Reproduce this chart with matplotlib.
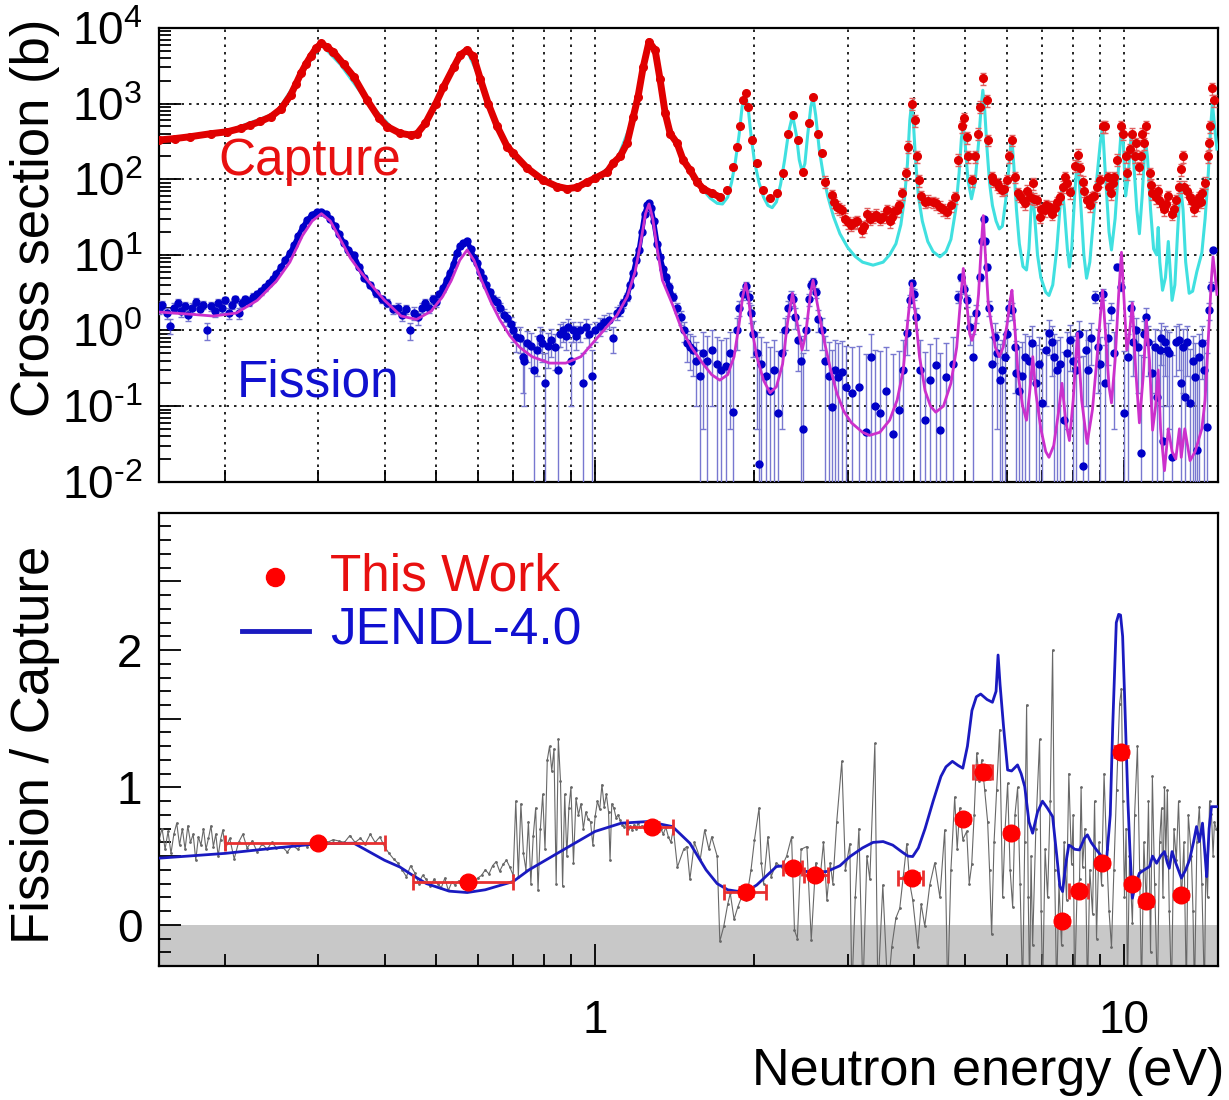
import numpy as np
import matplotlib
matplotlib.use("Agg")
import matplotlib.pyplot as plt
from matplotlib.ticker import LogLocator, MultipleLocator, FuncFormatter, NullFormatter

plt.rcParams['font.family'] = ['Liberation Sans', 'DejaVu Sans']
plt.rcParams['mathtext.fontset'] = 'custom'
plt.rcParams['mathtext.rm'] = 'Liberation Sans'
plt.rcParams['mathtext.default'] = 'regular'

# ---------------- top panel: cross sections (b) ----------------
# measured capture (smooth part first, then the resonance forest, then extra points)
cap_E = [0.150, 0.161, 0.172, 0.188, 0.202, 0.214, 0.223, 0.233, 0.244, 0.255, 0.266, 0.272, 0.278, 0.284,
         0.290, 0.297, 0.304, 0.311, 0.320, 0.335, 0.350, 0.371, 0.390, 0.405, 0.428, 0.448, 0.461, 0.478,
         0.500, 0.517, 0.540, 0.556, 0.573, 0.589, 0.607, 0.628, 0.653, 0.682, 0.700, 0.744, 0.798, 0.848,
         0.886, 0.925, 0.966, 1.000, 1.054, 1.081, 1.115, 1.149, 1.180, 1.205, 1.232, 1.264, 1.298, 1.326,
         1.356, 1.386, 1.428, 1.466, 1.511, 1.558, 1.599, 1.663, 1.722, 1.775, 1.822, 1.853, 1.877, 1.902,
         1.927, 1.944, 1.978, 2.022, 2.075, 2.139, 2.205, 2.263, 2.313, 2.363, 2.415, 2.470, 2.534, 2.578,
         2.635, 2.682, 2.716, 2.801, 2.861, 2.925, 3.002, 3.095, 3.19, 3.26, 3.346, 3.449, 3.556, 3.634,
         3.714, 3.796, 3.863, 3.896, 3.964, 4.016, 4.051, 4.087, 4.195, 4.344, 4.477, 4.616, 4.778, 4.841,
         4.926, 4.969, 5.034, 5.056, 5.145, 5.212, 5.281, 5.327, 5.397, 5.49, 5.514, 5.611, 5.734, 5.86,
         5.989, 6.041, 6.12, 6.201, 6.282, 6.42, 6.619, 6.706, 6.823, 6.913, 7.065, 7.22, 7.378, 7.54,
         7.705, 7.874, 8.047, 8.153, 8.333, 8.478, 8.665, 8.855, 8.972, 9.09, 9.17, 9.29, 9.45, 9.575,
         9.7, 9.87, 9.957, 10.13, 10.35, 10.53, 10.67, 10.81, 11.0, 11.15, 11.29, 11.64, 12.0, 12.27,
         12.53, 12.81, 12.98, 13.27, 13.68, 14.04, 14.35, 14.53, 14.66, 14.79,
         2.83, 2.89, 2.96, 3.04, 3.13, 3.22, 3.30, 3.40, 3.50, 3.60, 3.67, 3.75, 4.12, 4.25, 4.40, 4.55,
         4.70, 5.65, 5.80, 5.92, 6.35, 6.50, 6.55, 6.75, 6.95, 7.10, 7.30, 7.45, 7.65, 7.80, 8.25, 8.40,
         8.60, 8.75, 9.35, 9.52, 10.05, 10.25, 10.45, 10.75, 10.90, 11.20, 11.45, 11.55, 11.80, 11.90,
         12.10, 12.40, 12.70, 12.90, 13.10, 13.40, 13.55, 13.80, 13.95, 14.20, 14.45]
cap_xs = [330, 345, 365, 400, 424, 470, 520, 580, 670, 850, 1300, 1800, 2500, 3300,
          4200, 5400, 6250, 5600, 4840, 3300, 2260, 1110, 650, 495, 405, 383, 400, 550,
          1000, 1660, 3000, 4400, 5100, 4200, 2100, 1000, 500, 270, 221, 140, 97, 80,
          75, 78, 92, 103, 125, 163, 200, 300, 660, 1230, 3000, 6570, 5100, 2100,
          750, 400, 300, 180, 132, 92, 75, 65, 58, 72, 145, 270, 500, 1110,
          1370, 910, 330, 163, 72, 56, 65, 120, 400, 705, 330, 124, 550, 1230,
          400, 220, 92, 61, 43, 39, 27, 27, 21, 35, 32, 30, 39, 32,
          39, 65, 120, 270, 1000, 600, 200, 97, 50, 50, 43, 37, 58, 180,
          500, 640, 360, 200, 97, 200, 400, 910, 2170, 1110, 330, 107, 88, 72,
          97, 200, 330, 107, 65, 53, 58, 88, 53, 32, 39, 43, 41, 58,
          107, 67, 150, 210, 92, 53, 58, 80, 97, 500, 500, 107, 65, 107,
          180, 500, 400, 120, 400, 300, 145, 400, 500, 120, 65, 53, 47, 35,
          53, 135, 80, 58, 47, 65, 200, 500, 1600, 1100,
          50, 41, 30, 25, 28, 24, 30, 34, 32, 28, 38, 45, 60, 52, 48, 40,
          45, 95, 80, 75, 60, 48, 70, 55, 40, 45, 35, 50, 80, 90, 140, 70,
          45, 60, 80, 90, 200, 250, 200, 200, 300, 85, 58, 70, 45, 40,
          60, 40, 80, 200, 70, 52, 40, 58, 50, 90, 300]

# JENDL-4.0 capture
cyan_E = [0.15, 0.2, 0.25, 0.28, 0.304, 0.33, 0.37, 0.42, 0.46, 0.5, 0.54, 0.573, 0.61, 0.65, 0.7, 0.8,
          0.88, 1.0, 1.1, 1.18, 1.23, 1.264, 1.3, 1.356, 1.43, 1.5, 1.55, 1.6, 1.65, 1.7, 1.74, 1.78,
          1.81, 1.84, 1.87, 1.895, 1.92, 1.945, 1.97, 2.0, 2.04, 2.08, 2.12, 2.16, 2.2, 2.24, 2.28, 2.32,
          2.36, 2.40, 2.43, 2.46, 2.49, 2.52, 2.555, 2.58, 2.61, 2.65, 2.7, 2.75, 2.82, 2.9, 3.0, 3.1,
          3.2, 3.35, 3.5, 3.6, 3.7, 3.78, 3.84, 3.89, 3.93, 3.96, 3.99, 4.03, 4.08, 4.15, 4.25, 4.35,
          4.48, 4.6, 4.7, 4.8, 4.87, 4.92, 4.96, 5.0, 5.06, 5.14, 5.22, 5.3, 5.36, 5.4, 5.44, 5.5,
          5.56, 5.63, 5.72, 5.8, 5.88, 5.96, 6.04, 6.1, 6.13, 6.18, 6.25, 6.33, 6.43, 6.53, 6.6, 6.66,
          6.71, 6.76, 6.85, 6.95, 7.1, 7.2, 7.32, 7.45, 7.55, 7.62, 7.7, 7.8, 7.87, 7.95, 8.05, 8.15,
          8.25, 8.38, 8.48, 8.6, 8.72, 8.85, 9.0, 9.09, 9.2, 9.35, 9.45, 9.6, 9.75, 9.87, 9.95, 10.05,
          10.15, 10.3, 10.42, 10.55, 10.67, 10.8, 10.95, 11.05, 11.2, 11.35, 11.5, 11.58, 11.66, 11.8, 11.95, 12.1,
          12.2, 12.3, 12.45, 12.6, 12.75, 12.9, 13.05, 13.25, 13.45, 13.7, 14.0, 14.2, 14.4, 14.55, 14.66, 14.8,
          14.95]
cyan_xs = [320, 420, 750, 2600, 6000, 3300, 1100, 420, 390, 1000, 3000, 5000, 1900, 480, 215, 95,
           73, 100, 180, 650, 2900, 6300, 4800, 720, 270, 130, 95, 72, 56, 48, 47, 58,
           90, 170, 380, 900, 1350, 900, 380, 170, 90, 58, 45, 42, 50, 85, 180, 420,
           700, 380, 180, 125, 160, 380, 900, 1200, 700, 250, 110, 60, 32, 19, 12.5, 9.5,
           8, 7.3, 8, 10, 14, 25, 55, 160, 600, 1000, 600, 180, 60, 28, 15, 11,
           9.4, 11, 16, 40, 120, 350, 500, 300, 100, 55, 90, 300, 900, 1500, 900, 250,
           90, 45, 28, 22, 24, 50, 130, 300, 330, 150, 40, 14, 7, 6.3, 12, 40,
           65, 35, 10, 5, 3.2, 2.9, 4, 12, 40, 79, 40, 12, 6.9, 12, 60, 200,
           60, 10, 4.9, 8, 25, 90, 300, 500, 120, 20, 11.6, 30, 150, 500, 300, 60,
           100, 400, 150, 40, 19, 60, 330, 200, 40, 12, 10, 23, 8, 3.4, 5, 15,
           6, 2.5, 4, 20, 88, 40, 8, 3.1, 3.3, 6, 10.6, 30, 120, 500, 1000, 500,
           250]

# measured fission
fis_E = [0.150, 0.152, 0.155, 0.157, 0.160, 0.163, 0.165, 0.168, 0.170, 0.173, 0.176, 0.179, 0.182, 0.185,
         0.188, 0.191, 0.194, 0.197, 0.200, 0.203, 0.206, 0.209, 0.212, 0.215, 0.218, 0.222, 0.226, 0.230,
         0.234, 0.238, 0.242, 0.246, 0.250, 0.255, 0.260, 0.265, 0.270, 0.275, 0.280, 0.286, 0.292, 0.298,
         0.304, 0.310, 0.316, 0.322, 0.328, 0.335, 0.342, 0.350, 0.358, 0.366, 0.375, 0.385, 0.395, 0.405,
         0.415, 0.425, 0.432, 0.440, 0.447, 0.455, 0.462, 0.470, 0.478, 0.486, 0.494, 0.500, 0.508, 0.516,
         0.524, 0.532, 0.540, 0.548, 0.556, 0.564, 0.573, 0.582, 0.590, 0.598, 0.606, 0.614, 0.622, 0.632,
         0.642, 0.652, 0.662, 0.672, 0.682, 0.692, 0.700, 0.710, 0.720, 0.730, 0.735, 0.745, 0.755, 0.765,
         0.775, 0.785, 0.795, 0.805, 0.815, 0.825, 0.840, 0.850, 0.860, 0.870, 0.880, 0.890, 0.900, 0.910,
         0.920, 0.935, 0.950, 0.960, 0.975, 0.985, 1.000, 1.020, 1.040, 1.060, 1.080, 1.100, 1.115, 1.130,
         1.149, 1.165, 1.180, 1.195, 1.210, 1.225, 1.240, 1.255, 1.264, 1.275, 1.290, 1.310, 1.326, 1.345,
         1.360, 1.380, 1.400, 1.430, 1.450, 1.470, 1.490, 1.510, 1.530, 1.550, 1.580, 1.600, 1.630, 1.660,
         1.700, 1.730, 1.770, 1.800, 1.820, 1.850, 1.870, 1.900, 1.930, 1.950, 1.970, 1.990, 2.020, 2.040,
         2.060, 2.100, 2.140, 2.180, 2.220, 2.250, 2.280, 2.310, 2.340, 2.360, 2.390, 2.420, 2.450, 2.470,
         2.500, 2.530, 2.560, 2.580, 2.610, 2.640, 2.680, 2.720, 2.760, 2.800, 2.840, 2.880, 2.930, 2.980,
         3.050, 3.150, 3.250, 3.320, 3.380, 3.450, 3.550, 3.650, 3.750, 3.820, 3.880, 3.930, 3.960, 4.000,
         4.040, 4.100, 4.200, 4.300, 4.400, 4.480, 4.600, 4.750, 4.840, 4.920, 4.970, 5.030, 5.100, 5.170,
         5.250, 5.330, 5.380, 5.420, 5.460, 5.500, 5.550, 5.620, 5.700, 5.810, 5.950, 6.050, 6.140, 6.250,
         6.330, 6.500, 6.700, 6.900, 7.000, 7.200, 7.350, 7.550, 7.700, 7.900, 8.100, 8.350, 8.550, 8.800,
         9.000, 9.200, 9.450, 9.700, 9.850, 10.00, 10.30, 10.50, 10.75, 11.00, 11.25, 11.50, 11.65, 11.80,
         12.05, 12.30, 12.80, 13.00, 13.30, 13.60, 13.70, 14.00, 14.30, 14.45, 14.55, 14.70,
         5.75, 5.88, 6.00, 6.20, 6.40, 6.60, 6.80, 7.10, 7.30, 7.45, 7.80, 8.00, 8.20, 8.45, 8.65, 8.90,
         9.10, 9.30, 9.55, 10.15, 10.40, 10.60, 10.90, 11.10, 11.40, 11.70, 11.95, 12.15, 12.50, 12.65,
         12.90, 13.15, 13.45, 13.85, 14.15]
fis_xs = [1.9, 2.2, 1.7, 1.15, 2.0, 2.3, 1.8, 2.1, 1.6, 2.0, 2.4, 1.9, 2.2, 1.0,
          2.1, 1.8, 2.3, 2.0, 2.5, 1.7, 2.2, 2.6, 1.7, 2.3, 2.6, 2.4, 2.8, 3.0,
          3.3, 3.7, 4.2, 4.8, 5.6, 6.8, 8.5, 10.5, 13.5, 18, 23, 29, 34, 37,
          37, 35, 30, 24, 19, 14.5, 11.5, 9.9, 7.0, 5.0, 4.0, 3.1, 2.6, 2.3,
          1.9, 2.0, 1.6, 1.9, 1.0, 1.7, 1.5, 2.0, 2.3, 2.0, 2.6, 2.4, 3.0, 3.6,
          4.6, 5.8, 7.5, 10.5, 13, 14.5, 15, 12, 9, 7.8, 6.0, 5.0, 4.0, 3.2,
          2.6, 2.4, 2.0, 1.6, 1.45, 1.2, 1.0, 0.82, 0.8, 0.45, 0.4, 0.68, 0.62, 0.3,
          0.55, 0.8, 0.68, 0.2, 0.62, 0.75, 0.6, 0.3, 0.9, 1.0, 0.85, 1.1, 0.4, 1.0,
          0.85, 1.0, 0.2, 1.1, 0.9, 0.25, 1.0, 1.15, 1.3, 1.37, 0.8, 1.7, 1.85, 2.3,
          2.8, 4.0, 5.7, 8.5, 11.6, 20, 35, 45, 48, 42, 28, 14, 9.4, 6.5,
          5.1, 3.8, 2.8, 2.0, 1.5, 1.0, 0.68, 0.6, 0.55, 0.4, 0.25, 0.5, 0.4, 0.55,
          0.36, 0.3, 0.34, 0.5, 0.084, 1.0, 2.0, 3.0, 3.9, 2.8, 1.7, 0.9, 0.5, 0.017,
          0.36, 0.25, 0.16, 0.3, 0.08, 0.5, 1.0, 2.0, 2.8, 2.6, 1.5, 0.74, 0.4, 0.05,
          1.0, 2.6, 4.0, 4.4, 3.2, 1.4, 1.0, 0.4, 0.25, 0.097, 0.3, 0.24, 0.28, 0.18,
          0.15, 0.18, 0.045, 0.45, 0.1, 0.08, 0.16, 0.043, 0.088, 0.3, 0.92, 2.5, 4.2, 3.0,
          1.5, 0.3, 0.065, 0.22, 0.35, 0.048, 0.24, 0.36, 2.8, 5.1, 3.5, 2.5, 1.1, 0.45,
          1.7, 5.1, 15, 30, 15, 6.9, 2.0, 0.36, 0.82, 0.22, 0.45, 2.0, 1.85, 0.27,
          0.16, 0.45, 0.68, 0.36, 0.11, 0.92, 0.45, 0.36, 0.065, 0.74, 0.3, 0.016, 0.3, 2.8,
          0.36, 0.2, 1.85, 6.9, 3.8, 0.08, 2.0, 1.0, 0.024, 1.5, 0.27, 0.13, 0.55, 0.035,
          0.55, 0.021, 0.2, 0.13, 0.11, 0.24, 0.026, 0.68, 0.053, 1.85, 3.8, 11.6,
          0.5, 0.3, 0.9, 0.6, 0.25, 0.4, 0.2, 0.55, 0.7, 0.3, 0.5, 0.4, 0.9, 0.55, 0.8, 0.6,
          3.0, 0.8, 0.5, 0.45, 0.7, 0.6, 0.9, 0.7, 0.6, 0.8, 0.7, 0.5, 0.7, 0.75,
          0.6, 0.7, 0.4, 0.45, 0.3]

# JENDL-4.0 fission
mag_E = [0.15, 0.17, 0.19, 0.21, 0.23, 0.25, 0.265, 0.28, 0.292, 0.304, 0.316, 0.33, 0.345, 0.36, 0.38, 0.4,
         0.43, 0.46, 0.49, 0.515, 0.535, 0.555, 0.573, 0.59, 0.61, 0.635, 0.66, 0.69, 0.72, 0.76, 0.82, 0.88,
         0.94, 1.0, 1.05, 1.1, 1.15, 1.19, 1.22, 1.245, 1.264, 1.285, 1.31, 1.34, 1.4, 1.46, 1.52, 1.6,
         1.66, 1.72, 1.78, 1.83, 1.87, 1.9, 1.925, 1.95, 1.98, 2.02, 2.08, 2.14, 2.2, 2.26, 2.31, 2.36,
         2.41, 2.46, 2.5, 2.55, 2.58, 2.63, 2.7, 2.78, 2.86, 2.95, 3.05, 3.2, 3.3, 3.45, 3.6, 3.72,
         3.82, 3.89, 3.96, 4.02, 4.1, 4.2, 4.3, 4.4, 4.55, 4.7, 4.82, 4.9, 4.96, 5.03, 5.1, 5.15,
         5.22, 5.3, 5.36, 5.41, 5.46, 5.53, 5.6, 5.7, 5.8, 5.9, 6.0, 6.08, 6.13, 6.2, 6.3, 6.42,
         6.53, 6.62, 6.71, 6.8, 6.95, 7.1, 7.2, 7.35, 7.5, 7.62, 7.75, 7.87, 8.0, 8.15, 8.3, 8.5,
         8.7, 8.85, 9.0, 9.09, 9.2, 9.35, 9.45, 9.6, 9.75, 9.87, 9.97, 10.1, 10.2, 10.35, 10.5, 10.67,
         10.85, 11.0, 11.15, 11.3, 11.45, 11.58, 11.7, 11.9, 12.1, 12.3, 12.5, 12.7, 12.8, 13.0, 13.3, 13.6,
         14.0, 14.2, 14.4, 14.6, 14.7, 14.85, 14.95]
mag_xs = [1.75, 1.65, 1.55, 1.7, 2.5, 4.5, 8, 18, 28, 35, 28, 16, 9, 6, 3.8, 2.5,
          1.55, 1.4, 1.8, 2.8, 4.6, 8.5, 11.6, 8.5, 4.6, 2.4, 1.4, 0.85, 0.6, 0.45, 0.37, 0.37,
          0.45, 0.74, 1.1, 1.6, 2.8, 6, 15, 35, 47, 30, 12, 4.6, 2.2, 1.0, 0.6, 0.36,
          0.26, 0.22, 0.26, 0.45, 1.2, 2.8, 4.2, 2.6, 1.0, 0.45, 0.22, 0.15, 0.18, 0.36, 1.3, 3.1,
          1.2, 0.55, 0.9, 3.0, 4.6, 2.2, 0.8, 0.32, 0.15, 0.085, 0.06, 0.045, 0.041, 0.045, 0.065, 0.12,
          0.3, 1.2, 4.2, 1.8, 0.45, 0.16, 0.1, 0.083, 0.1, 0.2, 0.6, 2.5, 6.6, 2.5, 0.9, 0.74,
          1.0, 3, 12, 33, 10, 2.2, 1.25, 0.6, 0.45, 0.6, 1.2, 2.5, 3.4, 1.2, 0.25, 0.1,
          0.065, 0.15, 0.45, 0.15, 0.05, 0.025, 0.021, 0.03, 0.08, 0.2, 0.06, 0.035, 0.12, 0.92, 0.12, 0.032,
          0.09, 0.35, 1.5, 3.4, 1.0, 0.18, 0.11, 0.4, 3, 10.8, 3, 0.55, 0.8, 2.3, 0.3, 0.06,
          0.25, 1.37, 0.4, 0.048, 0.1, 0.3, 0.05, 0.014, 0.05, 0.025, 0.02, 0.05, 0.021, 0.05, 0.019, 0.025,
          0.05, 0.12, 0.8, 5, 9.4, 5, 3]

# ---------------- bottom panel: fission / capture ----------------
ratio_E = [0.150, 0.152, 0.154, 0.156, 0.158, 0.160, 0.162, 0.164, 0.166, 0.168, 0.170, 0.172, 0.174, 0.176,
           0.178, 0.180, 0.182, 0.184, 0.186, 0.188, 0.190, 0.192, 0.194, 0.196, 0.198, 0.200, 0.204, 0.208,
           0.212, 0.216, 0.220, 0.225, 0.230, 0.235, 0.240, 0.245, 0.250, 0.256, 0.262, 0.268, 0.274, 0.280,
           0.286, 0.292, 0.298, 0.305, 0.312, 0.320, 0.328, 0.336, 0.344, 0.352, 0.360, 0.368, 0.376, 0.384,
           0.392, 0.400, 0.408, 0.416, 0.424, 0.432, 0.440, 0.448, 0.456, 0.464, 0.472, 0.480, 0.488, 0.496,
           0.504, 0.512, 0.520, 0.528, 0.536, 0.544, 0.552, 0.560, 0.568, 0.576, 0.584, 0.592, 0.600, 0.610,
           0.620, 0.630, 0.640, 0.650, 0.660, 0.670, 0.680, 0.690, 0.700, 0.708, 0.716, 0.724, 0.732, 0.740,
           0.748, 0.756, 0.764, 0.772, 0.780, 0.788, 0.796, 0.804, 0.812, 0.820, 0.828, 0.836, 0.844, 0.852,
           0.860, 0.868, 0.876, 0.884, 0.892, 0.900, 0.910, 0.920, 0.930, 0.940, 0.950, 0.960, 0.970, 0.980,
           0.990, 1.000, 1.010, 1.020, 1.030, 1.040, 1.050, 1.060, 1.067, 1.075, 1.085, 1.095, 1.105, 1.115,
           1.125, 1.135, 1.145, 1.155, 1.165, 1.175, 1.185, 1.195, 1.205, 1.215, 1.225, 1.240, 1.255, 1.270,
           1.285, 1.300, 1.315, 1.330, 1.345, 1.360, 1.375, 1.390, 1.405, 1.430, 1.470, 1.490, 1.510, 1.540,
           1.580, 1.610, 1.640, 1.660, 1.700, 1.720, 1.750, 1.780, 1.800, 1.830, 1.860, 1.890, 1.930, 1.970,
           2.000, 2.040, 2.060, 2.080, 2.120, 2.150, 2.200, 2.250, 2.300, 2.350, 2.380, 2.410, 2.450, 2.512,
           2.56, 2.61, 2.659, 2.70, 2.740, 2.78, 2.812, 2.86, 2.924, 2.97, 3.028, 3.054, 3.10, 3.15,
           3.205, 3.261, 3.303, 3.376, 3.420, 3.495, 3.572, 3.634, 3.70, 3.762, 3.82, 3.879, 3.93, 3.981,
           4.068, 4.13, 4.195, 4.287, 4.380, 4.48, 4.575, 4.634, 4.70, 4.778, 4.83, 4.883, 4.95, 5.034,
           5.09, 5.145, 5.20, 5.258, 5.32, 5.374, 5.444, 5.514, 5.56, 5.611, 5.67, 5.734, 5.809, 5.886,
           5.95, 6.015, 6.08, 6.148, 6.21, 6.282, 6.35, 6.420, 6.48, 6.533, 6.58, 6.619, 6.66, 6.706,
           6.80, 6.913, 6.96, 7.004, 7.08, 7.157, 7.24, 7.315, 7.38, 7.444, 7.52, 7.604, 7.69, 7.772,
           7.85, 7.943, 8.00, 8.047, 8.13, 8.224, 8.28, 8.333, 8.42, 8.513, 8.60, 8.703, 8.78, 8.855,
           8.95, 9.050, 9.15, 9.250, 9.35, 9.450, 9.55, 9.660, 9.790, 9.870, 9.93, 10.00, 10.07, 10.13,
           10.22, 10.35, 10.45, 10.58, 10.68, 10.77, 10.88, 11.00, 11.10, 11.20, 11.29, 11.40, 11.54, 11.65,
           11.75, 11.82, 11.90, 11.97, 12.05, 12.15, 12.27, 12.40, 12.53, 12.65, 12.81, 12.95, 13.09, 13.20,
           13.38, 13.47, 13.56, 13.70, 13.85, 14.00, 14.16, 14.25, 14.35, 14.48, 14.60, 14.70, 14.79, 14.90]
ratio_val = [0.62, 0.70, 0.55, 0.68, 0.52, 0.66, 0.74, 0.58, 0.70, 0.55, 0.72, 0.60, 0.66, 0.47,
             0.64, 0.58, 0.70, 0.55, 0.63, 0.72, 0.57, 0.66, 0.50, 0.62, 0.69, 0.55, 0.63, 0.48,
             0.60, 0.66, 0.56, 0.61, 0.53, 0.59, 0.55, 0.60, 0.56, 0.57, 0.53, 0.58, 0.55, 0.59,
             0.57, 0.60, 0.59, 0.61, 0.60, 0.62, 0.61, 0.60, 0.65, 0.60, 0.63, 0.59, 0.66, 0.60,
             0.64, 0.57, 0.52, 0.48, 0.45, 0.40, 0.35, 0.43, 0.38, 0.30, 0.36, 0.33, 0.28, 0.33,
             0.30, 0.27, 0.34, 0.25, 0.31, 0.29, 0.32, 0.28, 0.31, 0.30, 0.33, 0.31, 0.34, 0.36,
             0.40, 0.37, 0.43, 0.46, 0.39, 0.44, 0.47, 0.42, 0.36, 0.90, 0.35, 0.88, 0.52, 0.40,
             0.75, 0.30, 0.65, 0.85, 0.25, 0.70, 0.95, 0.55, 1.20, 1.30, 1.12, 1.28, 0.30, 1.35,
             1.05, 0.28, 0.95, 0.50, 0.85, 1.00, 0.45, 0.92, 0.80, 0.88, 0.70, 0.82, 0.77, 0.75,
             0.58, 0.79, 0.90, 0.84, 1.02, 0.86, 0.95, 0.82, 0.47, 0.88, 0.85, 0.78, 0.80, 0.76,
             0.73, 0.71, 0.74, 0.70, 0.72, 0.69, 0.73, 0.70, 0.74, 0.71, 0.72, 0.70, 0.74, 0.71,
             0.73, 0.69, 0.72, 0.70, 0.66, 0.71, 0.64, 0.60, 0.70, 0.42, 0.55, 0.57, 0.33, 0.60,
             0.48, 0.69, 0.55, 0.64, 0.50, -0.12, -0.01, 0.15, 0.23, 0.04, 0.13, 0.20, 0.18, 0.40,
             0.62, 0.85, 0.45, 0.30, 0.64, 0.35, 0.45, 0.42, 0.50, 0.64, -0.04, -0.10, 0.55, 0.57,
             -0.11, 0.45, 0.33, 0.60, 0.18, 0.45, 0.30, 0.75, 1.19, 0.40, 0.59, -0.5, 0.20, 0.70,
             -0.5, 0.50, 0.33, 1.32, -0.5, 0.29, -0.5, -0.16, 0.05, 0.12, 0.35, 0.59, 0.30, 0.18,
             -0.16, 0.15, -0.01, 0.29, 0.45, 0.20, 0.69, -0.5, 0.40, 0.93, 0.55, 0.85, 0.62, 0.68,
             0.30, 0.44, 0.80, 1.25, 1.05, 1.20, 0.98, 0.75, 0.40, -0.07, 0.60, 0.98, 1.42, 0.20,
             0.70, 1.03, 0.40, 0.13, 0.80, 1.00, 0.30, -0.5, 0.60, 1.60, 0.20, -0.5, 0.50, -0.15,
             0.70, 1.35, 0.10, -0.5, 0.55, 0.20, 0.90, 2.00, 0.40, -0.5, 0.30, -0.15, 0.60, 0.18,
             1.10, 0.44, 0.80, -0.5, 0.20, 0.33, 1.00, 0.42, 0.70, -0.5, 0.40, 0.08, 0.90, -0.10,
             0.60, 0.29, 1.10, 0.55, 0.10, -0.16, 0.40, 0.98, 1.61, 1.72, 0.90, 0.20, 0.70, -0.5,
             0.50, 0.01, 0.80, 1.30, 0.40, -0.5, 0.60, 0.13, 0.90, -0.20, 1.08, 0.30, -0.5, 0.60,
             0.85, 0.20, 1.00, 0.50, 0.98, 0.10, -0.5, 0.70, 0.47, 0.90, 0.17, 0.60, -0.5, 0.80,
             0.50, 0.10, -0.5, 0.60, 0.86, 0.30, -0.5, 0.50, 0.20, 0.90, 0.81, 0.50, 0.75, 0.70]

jendl_E = [0.15, 0.2, 0.25, 0.3, 0.35, 0.4, 0.428, 0.448, 0.48, 0.53, 0.573, 0.62, 0.7, 0.75, 0.87, 1.0,
           1.12, 1.26, 1.4, 1.51, 1.62, 1.7, 1.78, 1.85, 1.93, 2.02, 2.2, 2.36, 2.45, 2.55, 2.74, 2.9,
           3.03, 3.2, 3.35, 3.5, 3.65, 3.8, 3.9, 3.98, 4.08, 4.2, 4.35, 4.5, 4.6, 4.73, 4.85, 4.95,
           5.05, 5.15, 5.25, 5.35, 5.5, 5.63, 5.72, 5.77, 5.82, 5.91, 6.015, 6.12, 6.28, 6.38, 6.48, 6.6,
           6.706, 6.85, 7.0, 7.15, 7.315, 7.45, 7.55, 7.64, 7.75, 7.85, 7.94, 8.05, 8.22, 8.4, 8.51, 8.65,
           8.855, 9.05, 9.25, 9.4, 9.5, 9.65, 9.75, 9.83, 9.92, 10.0, 10.15, 10.24, 10.35, 10.5, 10.67, 10.9,
           11.15, 11.3, 11.5, 11.7, 11.9, 12.05, 12.15, 12.3, 12.5, 12.81, 13.05, 13.27, 13.5, 13.68, 13.85, 14.04,
           14.2, 14.3, 14.45, 14.6, 14.95]
jendl_val = [0.485, 0.52, 0.56, 0.59, 0.594, 0.47, 0.42, 0.37, 0.30, 0.245, 0.235, 0.255, 0.315, 0.40, 0.545, 0.68,
             0.74, 0.752, 0.715, 0.594, 0.40, 0.30, 0.255, 0.245, 0.242, 0.29, 0.424, 0.436, 0.40, 0.38, 0.388, 0.43,
             0.497, 0.56, 0.60, 0.606, 0.58, 0.53, 0.50, 0.497, 0.56, 0.70, 0.90, 1.08, 1.15, 1.19, 1.16, 1.14,
             1.30, 1.56, 1.66, 1.68, 1.64, 1.62, 1.70, 1.964, 1.75, 1.44, 1.127, 1.12, 1.164, 1.10, 1.006, 0.75,
             0.667, 0.82, 0.90, 0.85, 0.788, 0.50, 0.28, 0.242, 0.45, 0.58, 0.57, 0.55, 0.545, 0.63, 0.655, 0.60,
             0.545, 0.50, 0.473, 0.80, 1.44, 2.20, 2.26, 2.255, 2.10, 1.69, 0.90, 0.545, 0.194, 0.30, 0.376, 0.40,
             0.424, 0.50, 0.448, 0.50, 0.533, 0.45, 0.412, 0.533, 0.45, 0.34, 0.40, 0.473, 0.60, 0.715, 0.606, 0.74,
             0.50, 0.35, 0.70, 0.86, 0.86]

work_E = [0.30, 0.576, 1.281, 1.927, 2.36, 2.60, 3.96, 4.95, 5.40, 6.10, 7.62, 8.19, 9.07, 9.83, 10.35, 11.0, 12.8]
work_val = [0.594, 0.315, 0.715, 0.242, 0.414, 0.364, 0.344, 0.77, 1.115, 0.667, 0.03, 0.247, 0.449, 1.26, 0.298, 0.17, 0.218]
work_Elo = [0.10, 0.124, 0.132, 0.177, 0.10, 0.12, 0.22, 0.05, 0.22, 0.05, 0.05, 0.32, 0.05, 0.05, 0.05, 0.05, 0.05]
work_Ehi = [0.10, 0.124, 0.119, 0.173, 0.10, 0.15, 0.20, 0.05, 0.21, 0.05, 0.05, 0.33, 0.05, 0.05, 0.05, 0.05, 0.05]
work_err = [0.02, 0.02, 0.03, 0.03, 0.03, 0.03, 0.03, 0.03, 0.05, 0.03, 0.03, 0.03, 0.03, 0.04, 0.03, 0.03, 0.03]

red = '#e81010'
blue = '#1010d0'


def pow10(v, pos):
    e = int(round(np.log10(v)))
    if e < 0:
        return r'$10^{\text{-}%d}$' % (-e)
    return r'$10^{%d}$' % e


fig = plt.figure(figsize=(12.29, 11), dpi=100)
ax1 = fig.add_axes([0.1294, 0.5621, 0.8614, 0.4125])
ax2 = fig.add_axes([0.1294, 0.1218, 0.8614, 0.4121])

# top panel
cap_E_a = np.array(cap_E)
cap_xs_a = np.array(cap_xs, dtype=float)
cap_err = np.where(cap_E_a > 2.7, 0.18 * cap_xs_a, 0.0)
fis_E_a = np.array(fis_E)
fis_xs_a = np.array(fis_xs, dtype=float)
fis_unc = np.where(fis_E_a < 0.45, 0.25, np.where(fis_E_a < 1.6, 0.3, 0.45))
fis_err = np.sqrt(fis_unc ** 2 + (0.06 * fis_xs_a) ** 2)

ax1.errorbar(fis_E, fis_xs, yerr=fis_err, fmt='o', ms=5, color='#0000c8', ecolor='#7878d0',
             elinewidth=1, capsize=2.5, capthick=1, zorder=3)
# the dense points on the big fission resonances merge into a band
peaks = (((fis_E_a > 0.221) & (fis_E_a < 0.41)) | ((fis_E_a > 0.5) & (fis_E_a < 0.665)) |
         ((fis_E_a > 1.12) & (fis_E_a < 1.42)))
ax1.plot(np.where(peaks, fis_E_a, np.nan)[:200], np.where(peaks, fis_xs_a, np.nan)[:200],
         color='#0000c8', lw=3.5, zorder=3)
ax1.plot(mag_E, mag_xs, color='#cc30cc', lw=2, zorder=4)
ax1.plot(cyan_E, cyan_xs, color='#40e0e0', lw=2.2, zorder=5)
smooth = cap_E_a < 1.75
ax1.plot(cap_E_a[smooth], cap_xs_a[smooth], color='#e00000', lw=5, zorder=6)
ax1.errorbar(cap_E, cap_xs, yerr=cap_err, fmt='o', ms=5.5, color='#e00000', ecolor='#e06060',
             elinewidth=1, capsize=2.5, capthick=1, zorder=6)

ax1.set_xscale('log')
ax1.set_yscale('log')
ax1.set_xlim(0.15, 15)
ax1.set_ylim(1e-2, 1e4)
ax1.xaxis.set_minor_locator(LogLocator(base=10, subs=np.arange(2, 10), numticks=50))
ax1.yaxis.set_major_locator(LogLocator(base=10, numticks=20))
ax1.yaxis.set_minor_locator(LogLocator(base=10, subs=np.arange(2, 10), numticks=50))
ax1.yaxis.set_major_formatter(FuncFormatter(pow10))
ax1.xaxis.set_major_formatter(NullFormatter())
ax1.xaxis.set_minor_formatter(NullFormatter())
ax1.yaxis.set_minor_formatter(NullFormatter())
ax1.grid(which='major', axis='y', ls=(0, (1.5, 3)), color='k', lw=1.2)
ax1.grid(which='both', axis='x', ls=(0, (1.5, 3)), color='k', lw=1.2)
ax1.text(0.0557, 0.705, 'Capture', transform=ax1.transAxes, color=red, fontsize=37,
         ha='left', va='center')
ax1.text(0.0737, 0.218, 'Fission', transform=ax1.transAxes, color=blue, fontsize=37,
         ha='left', va='center')

# bottom panel
ax2.axhspan(-0.3, 0, color='#c8c8c8', zorder=0, lw=0)
ax2.plot(ratio_E, ratio_val, color='#686868', lw=0.8, marker='.', ms=2, zorder=2)
ax2.plot(jendl_E, jendl_val, color='#1a1ac0', lw=2, zorder=3)
ax2.errorbar(work_E, work_val, xerr=[work_Elo, work_Ehi], yerr=work_err, fmt='o', ms=12,
             color='#ff0000', ecolor='#e83030', elinewidth=2, capsize=6, capthick=2, zorder=4)

ax2.set_xscale('log')
ax2.set_xlim(0.15, 15)
ax2.set_ylim(-0.3, 3.0)
ax2.xaxis.set_minor_locator(LogLocator(base=10, subs=np.arange(2, 10), numticks=50))
ax2.xaxis.set_major_formatter(FuncFormatter(lambda v, p: '%g' % v))
ax2.xaxis.set_minor_formatter(NullFormatter())
ax2.yaxis.set_major_locator(MultipleLocator(0.5))
ax2.yaxis.set_minor_locator(MultipleLocator(0.1))
ax2.yaxis.set_major_formatter(FuncFormatter(
    lambda v, p: '%d' % round(v) if abs(v - round(v)) < 1e-6 and round(v) in (0, 1, 2) else ''))

# legend
ax2.plot([0.1096], [0.858], 'o', ms=13, color='#ff0000', transform=ax2.transAxes)
ax2.plot([0.0784, 0.1417], [0.739, 0.739], color='#1a1ac0', lw=3.5, transform=ax2.transAxes)
ax2.text(0.1615, 0.858, 'This Work', transform=ax2.transAxes, color=red, fontsize=37,
         ha='left', va='center')
ax2.text(0.1615, 0.739, 'JENDL-4.0', transform=ax2.transAxes, color=blue, fontsize=37,
         ha='left', va='center')

for ax in (ax1, ax2):
    for s in ax.spines.values():
        s.set_linewidth(1.6)
    ax.tick_params(which='both', direction='in', top=False, right=False, width=1.3)
    ax.tick_params(which='major', length=16, labelsize=33, pad=12)
    ax.tick_params(which='minor', length=8.5)
ax2.tick_params(axis='x', which='major', pad=24)

fig.text(0.0285, 0.8018, 'Cross section (b)', rotation=90, fontsize=38, ha='center', va='center')
fig.text(0.0285, 0.3227, 'Fission / Capture', rotation=90, fontsize=38, ha='center', va='center')
fig.text(0.996, 0.0255, 'Neutron energy (eV)', fontsize=37.5, ha='right', va='center')

fig.savefig('out.png', dpi=100)
